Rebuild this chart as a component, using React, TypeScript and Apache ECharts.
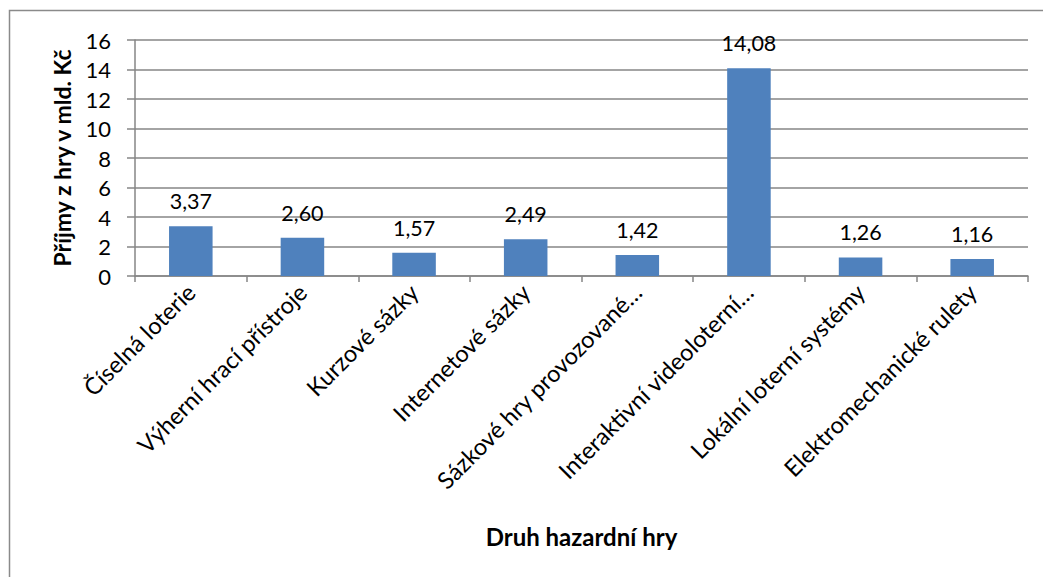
import React, { useEffect, useRef } from "react";
import * as echarts from "echarts";

const categories = [
  "Číselná loterie",
  "Výherní hrací přístroje",
  "Kurzové sázky",
  "Internetové sázky",
  "Sázkové hry provozované…",
  "Interaktivní videoloterní…",
  "Lokální loterní systémy",
  "Elektromechanické rulety",
];
const values = [3.37, 2.6, 1.57, 2.49, 1.42, 14.08, 1.26, 1.16];
const yAxisTitle = "Příjmy z hry v mld. Kč";
const xAxisTitle = "Druh hazardní hry";

const FONT = "Lato, 'Open Sans', sans-serif";

export default function App() {
  const ref = useRef<HTMLDivElement>(null);
  useEffect(() => {
    document.body.style.margin = "0";
    const chart = echarts.init(ref.current!, null, { renderer: "svg" });
    chart.setOption({
      animation: false,
      backgroundColor: "#ffffff",
      textStyle: { fontFamily: FONT },
      grid: { left: 135, right: 15, top: 40, bottom: 301, containLabel: false },
      graphic: [
        {
          type: "rect",
          shape: { x: 9.5, y: 10.5, width: 1100, height: 700 },
          style: { fill: "none", stroke: "#8a8a8a", lineWidth: 1.5 },
          silent: true,
        },
      ],
      xAxis: {
        type: "category",
        data: categories,
        name: xAxisTitle,
        nameLocation: "middle",
        nameGap: 248,
        nameTextStyle: { fontFamily: FONT, fontSize: 24, fontWeight: "bold", color: "#000" },
        axisLine: { lineStyle: { color: "#868686", width: 1.5 } },
        axisTick: { show: true, length: 6, alignWithLabel: false, lineStyle: { color: "#868686", width: 1.5 } },
        axisLabel: {
          rotate: 45,
          interval: 0,
          margin: 12,
          fontFamily: FONT,
          fontSize: 23.5,
          color: "#000",
        },
      },
      yAxis: {
        type: "value",
        min: 0,
        max: 16,
        interval: 2,
        name: yAxisTitle,
        nameLocation: "middle",
        nameGap: 62,
        nameTextStyle: { fontFamily: FONT, fontSize: 23, fontWeight: "bold", color: "#000" },
        axisLine: { show: true, lineStyle: { color: "#868686", width: 1.5 } },
        axisTick: { show: true, length: 8, lineStyle: { color: "#868686", width: 1.5 } },
        axisLabel: { fontFamily: FONT, fontSize: 22, color: "#000", margin: 24 },
        splitLine: { lineStyle: { color: "#868686", width: 1.5 } },
      },
      series: [
        {
          type: "bar",
          data: values,
          barWidth: "39%",
          itemStyle: { color: "#4F81BD" },
          label: {
            show: true,
            position: "top",
            distance: 14,
            fontFamily: FONT,
            fontSize: 21.5,
            color: "#000",
            formatter: (p: any) => p.value.toFixed(2).replace(".", ","),
          },
        },
      ],
    });
    return () => chart.dispose();
  }, []);
  return (
    <div
      ref={ref}
      style={{ position: "absolute", left: 0, top: 0, width: 1043, height: 577 }}
    />
  );
}
